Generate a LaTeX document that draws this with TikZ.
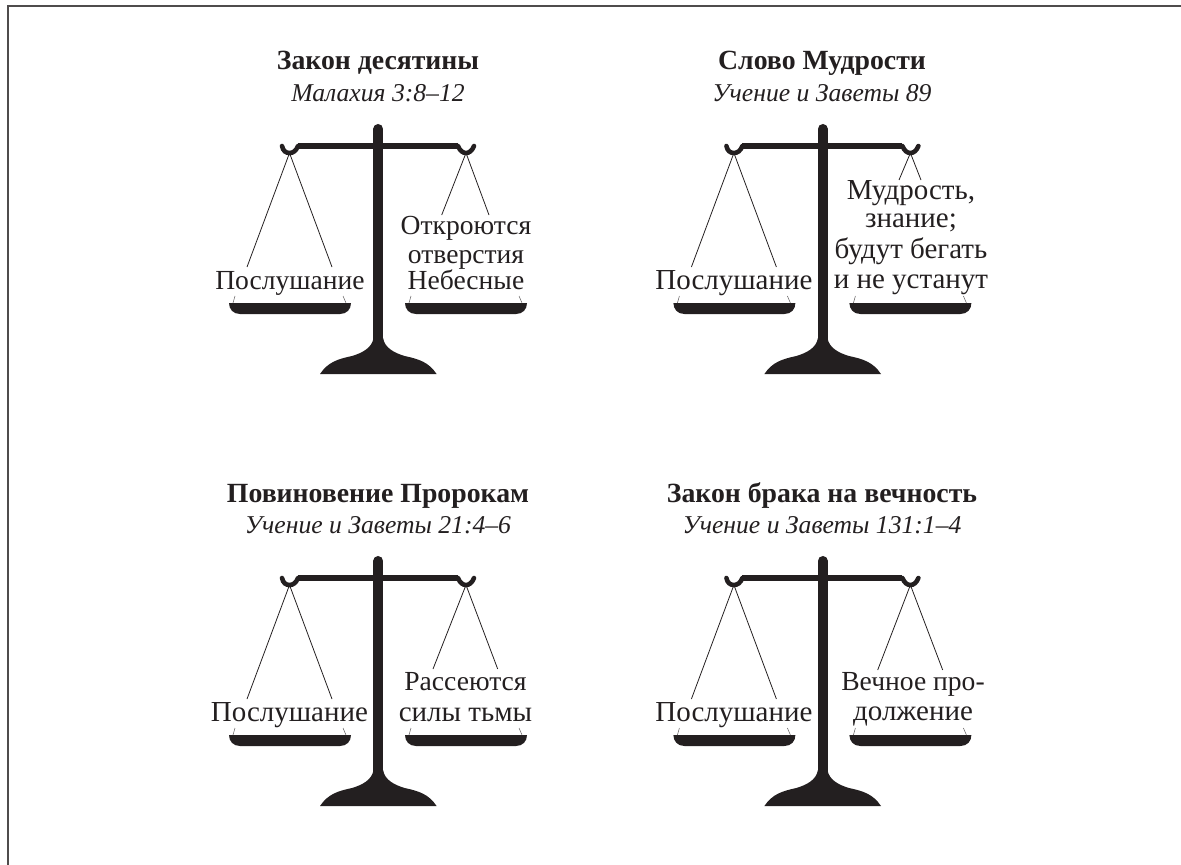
\documentclass[tikz,border=0pt]{standalone}
\usepackage{fontspec}
\setmainfont{Liberation Serif}
\usetikzlibrary{positioning}
\definecolor{ink}{HTML}{231F20}
\tikzstyle{lab} = [text=ink, inner sep=0pt, anchor=base, align=center,
    font=\fontsize{16.5}{17}\selectfont]
\tikzstyle{labs} = [lab, font=\fontsize{15.7}{15.6}\selectfont]
\tikzstyle{ttl} = [lab, font=\fontsize{15.8}{17}\selectfont\bfseries]
\tikzstyle{src} = [lab, font=\fontsize{14.6}{17}\selectfont\itshape]
\tikzstyle{rope} = [draw=ink, line width=0.45pt]
\tikzstyle{tick} = [draw=ink!70, line width=0.3pt]
% #1 name, #2 #3 shift, #4 #5 #6 right ropes: left end x, right end x, end y
\newcommand{\balance}[6]{
  \begin{scope}[shift={(#2,#3)}]
    \coordinate (#1hl) at (289.5,153);
    \coordinate (#1hr) at (466,153);
    \coordinate (#1ll) at (247,267);
    \coordinate (#1lr) at (332,267);
    \coordinate (#1rl) at (#4,#6);
    \coordinate (#1rr) at (#5,#6);
    \draw[rope] (#1hl) -- (#1ll);
    \draw[rope] (#1hl) -- (#1lr);
    \draw[rope] (#1hr) -- (#1rl);
    \draw[rope] (#1hr) -- (#1rr);
    \draw[ink, line width=2.9pt] (298,146) -- (458,146);
    \draw[ink, line width=2.6pt, line cap=round] (282,146) .. controls (283,151) and (286,153) .. (289.5,153)
      .. controls (293,153) and (296,151) .. (298,146);
    \draw[ink, line width=2.6pt, line cap=round] (458,146) .. controls (460,151) and (463,153) .. (466,153)
      .. controls (469,153) and (472,151) .. (474,146);
    \draw[ink, line width=5.7pt, line cap=round] (378.3,129) -- (378.3,345);
    \fill[ink] (373.5,338) .. controls (372,348) and (362,353) .. (352,356)
      .. controls (338,359) and (328,362) .. (320,374) -- (436.6,374)
      .. controls (428.6,362) and (418.6,359) .. (404.6,356)
      .. controls (394.6,353) and (384.6,348) .. (383.1,338) -- cycle;
    \foreach \px in {229,405} {
      \fill[ink,xshift=\px*0.02cm] (0,303) -- (122,303) .. controls (122,309) and (118,314) .. (111,314)
        -- (11,314) .. controls (4,314) and (0,309) .. (0,303) -- cycle;
      \draw[tick,xshift=\px*0.02cm] (6,296) -- (4,303);
      \draw[tick,xshift=\px*0.02cm] (114,296) -- (117,303);
    }
  \end{scope}
}

\begin{document}
\begin{tikzpicture}[x=0.02cm,y=-0.02cm]
  \useasboundingbox (0,0) rectangle (1181,865);
  \coordinate (fa) at (1181,6);
  \coordinate (fb) at (8,6);
  \coordinate (fc) at (8,865);
  \draw[ink!80, line width=0.75pt] (fa) -- (fb) -- (fc);

  \balance{a}{0}{0}{441.7}{489}{215}
  \balance{b}{444.4}{0}{454.6}{476.6}{180}
  \balance{c}{0}{432}{433}{497.7}{237}
  \balance{d}{444.4}{432}{433.3}{498.3}{238}

  \node[ttl] (ta) at (378,70) {Закон десятины};
  \node[src] (sa) at (378,101.5) {Малахия 3:8–12};
  \node[ttl] (tb) at (822,70) {Слово Мудрости};
  \node[src] (sb) at (822,101.5) {Учение и Заветы 89};
  \node[ttl] (tc) at (378,502) {Повиновение Пророкам};
  \node[src] (sc) at (378,533.5) {Учение и Заветы 21:4–6};
  \node[ttl] (td) at (822,502) {Закон брака на вечность};
  \node[src] (sd) at (822,533.5) {Учение и Заветы 131:1–4};

  \node[labs] (oa) at (290,289) {Послушание};
  \node[lab] (ob) at (734,289) {Послушание};
  \node[lab] (oc) at (289.5,721) {Послушание};
  \node[lab] (od) at (734,721) {Послушание};

  \node[labs] (ra1) at (466,235) {Откроются};
  \node[labs] (ra2) at (466,263) {отверстия};
  \node[labs] (ra3) at (466,290) {Небесные};
  \node[lab] (rb1) at (911,199) {Мудрость,};
  \node[lab] (rb2) at (911,228) {знание;};
  \node[lab] (rb3) at (911,258) {будут бегать};
  \node[lab] (rb4) at (911,288) {и не устанут};
  \node[labs] (rc1) at (465.5,690.5) {Рассеются};
  \node[lab] (rc2) at (465.5,721) {силы тьмы};
  \node[labs] (rd1) at (913,690.5) {Вечное про-};
  \node[lab] (rd2) at (913,720.5) {должение};
\end{tikzpicture}
\end{document}
